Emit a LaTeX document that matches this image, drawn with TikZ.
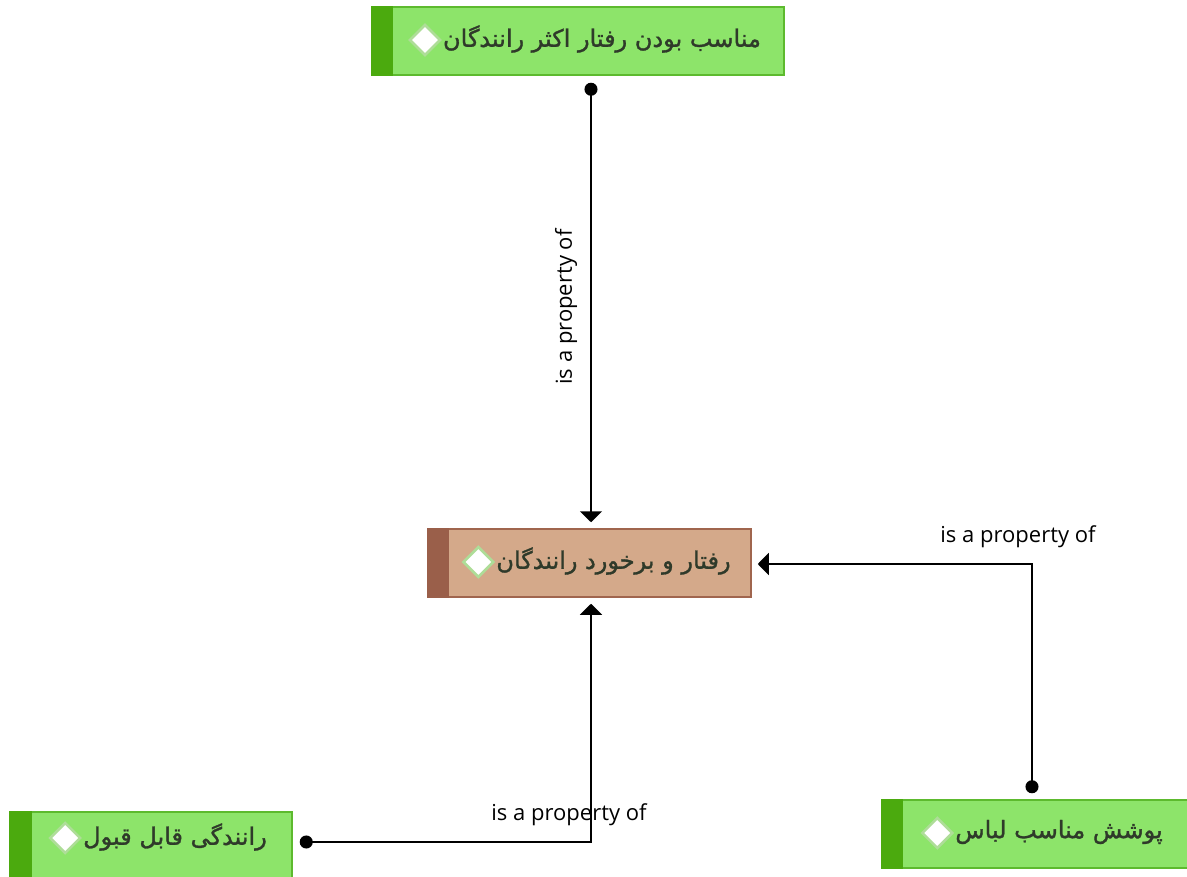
\documentclass[tikz,border=0pt]{standalone}
\usepackage{fontspec}
\setmainfont{Open Sans}
\newfontfamily\fafont[Script=Arabic,FakeBold=1.3]{DejaVu Sans}
\TeXXeTstate=1
\usetikzlibrary{arrows.meta,shapes.geometric}

\definecolor{leafFill}{HTML}{8DE46A}
\definecolor{leafLine}{HTML}{5DBA2E}
\definecolor{leafBar}{HTML}{4BAA0E}
\definecolor{coreFill}{HTML}{D4A98A}
\definecolor{coreLine}{HTML}{A0654E}
\definecolor{coreBar}{HTML}{9A5F4A}
\definecolor{gemLine}{HTML}{AEDD98}
\definecolor{inkDark}{HTML}{2F3A2A}

\begin{document}
\begin{tikzpicture}[x=1pt,y=-1pt,
  box/.style={draw, line width=1.5pt, minimum height=68pt, inner sep=0pt},
  leaf/.style={box, fill=leafFill, draw=leafLine},
  core/.style={box, fill=coreFill, draw=coreLine},
  tag/.style={font=\fafont\fontsize{24}{28}\selectfont, text=inkDark, inner sep=0pt},
  gem/.style={diamond, draw=gemLine, fill=white, line width=2.6pt,
              minimum width=31pt, minimum height=31pt, inner sep=0pt},
  prop/.style={line width=1.6pt, black,
               {Circle[length=13pt]}-{Triangle[length=11pt,width=22pt]}},
  lbl/.style={font=\fontsize{22}{26}\selectfont, inner sep=0pt}]

\clip (0,0) rectangle (1187,877);
\fill[white] (0,0) rectangle (1187,877);

% top concept
\node[leaf, minimum width=412pt] (top) at (578,41) {};
\fill[leafBar] (top.north west) rectangle ([xshift=22pt]top.south west);
\node[tag, xshift=24pt, yshift=2pt] (topT) at (top.center) {\beginR مناسب بودن رفتار اکثر رانندگان\endR};
\node[gem, anchor=east] (topG) at ([xshift=-1pt,yshift=-1pt]topT.west) {};

% central concept
\node[core, minimum width=323pt] (ctr) at (589.5,563) {};
\fill[coreBar] (ctr.north west) rectangle ([xshift=22pt]ctr.south west);
\node[tag, xshift=24pt, yshift=2pt] (ctrT) at (ctr.center) {\beginR رفتار و برخورد رانندگان\endR};
\node[gem, anchor=east] (ctrG) at ([xshift=-1pt,yshift=-1pt]ctrT.west) {};

% bottom-left concept
\node[leaf, minimum width=282pt] (bl) at (151,846) {};
\fill[leafBar] (bl.north west) rectangle ([xshift=23pt]bl.south west);
\node[tag, xshift=24pt, yshift=9pt] (blT) at (bl.center) {\beginR رانندگی قابل قبول\endR};
\node[gem, anchor=east] (blG) at ([xshift=-1pt,yshift=-1pt]blT.west) {};

% bottom-right concept
\node[leaf, minimum width=308pt] (br) at (1036,834) {};
\fill[leafBar] (br.north west) rectangle ([xshift=22pt]br.south west);
\node[tag, xshift=23pt, yshift=2pt] (brT) at (br.center) {\beginR پوشش مناسب لباس\endR};
\node[gem, anchor=east] (brG) at ([xshift=-1pt,yshift=-1pt]brT.west) {};

% relations
\draw[prop, shorten <=7pt, shorten >=6pt] ([xshift=1.5pt]top.south -| ctr.north) -- ([xshift=1.5pt]ctr.north);
\node[lbl, rotate=90] (l1) at (566,307) {is a property of};

\draw[prop, shorten <=6pt, shorten >=6pt] ([xshift=-4pt]br.north) |- ([yshift=-1pt]ctr.east);
\node[lbl] (l2) at (1018,537) {is a property of};

\draw[prop, shorten <=7pt, shorten >=6pt] ([yshift=4pt]bl.east) -| ([xshift=1.5pt]ctr.south);
\node[lbl] (l3) at (569,815) {is a property of};
\end{tikzpicture}
\end{document}
